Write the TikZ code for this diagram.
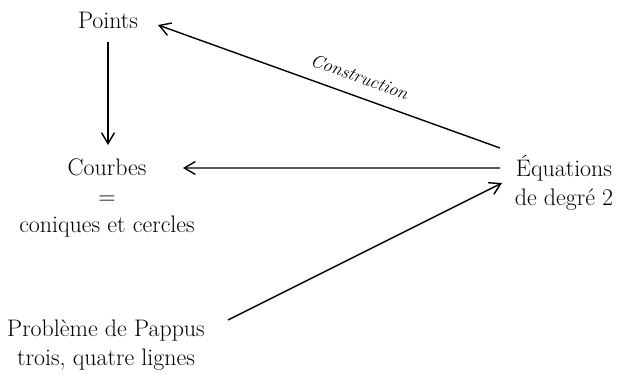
\documentclass[tikz,border=0pt]{standalone}
\usetikzlibrary{arrows.meta}
\begin{document}
\begin{tikzpicture}[x=1bp,y=1bp,
  lbl/.style={font=\fontsize{24}{29}\selectfont, align=center, inner sep=0pt},
  arr/.style={line width=1.4bp, -{Straight Barb[length=11bp,width=13bp,line width=1.4bp]}},
  clabel/.style={font=\fontsize{18.5}{22}\selectfont\itshape}]
\useasboundingbox (0,0) rectangle (619,376);
\node[lbl] (pts) at (108,356) {Points};
\node[lbl] (crb) at (107,178) {Courbes\\=\\coniques et cercles};
\node[lbl] (eq) at (564,193.5) {\'Equations\\de degr\'e 2};
\node[lbl] (pap) at (106,30.5) {Probl\`eme de Pappus\\trois, quatre lignes};
\draw[arr] ([yshift=-22bp]pts.center) -- ([xshift=1bp,yshift=53bp]crb.center);
\draw[arr] ([xshift=-64bp,yshift=34.5bp]eq.center) -- node[clabel, pos=0.43, sloped, above=9bp] {Construction} ([xshift=50bp,yshift=-5bp]pts.center);
\draw[arr] ([xshift=-64bp,yshift=14.5bp]eq.center) -- ([xshift=76bp,yshift=30bp]crb.center);
\draw[arr] ([xshift=122bp,yshift=25.5bp]pap.center) -- ([xshift=-62bp,yshift=-0.5bp]eq.center);
\end{tikzpicture}
\end{document}
